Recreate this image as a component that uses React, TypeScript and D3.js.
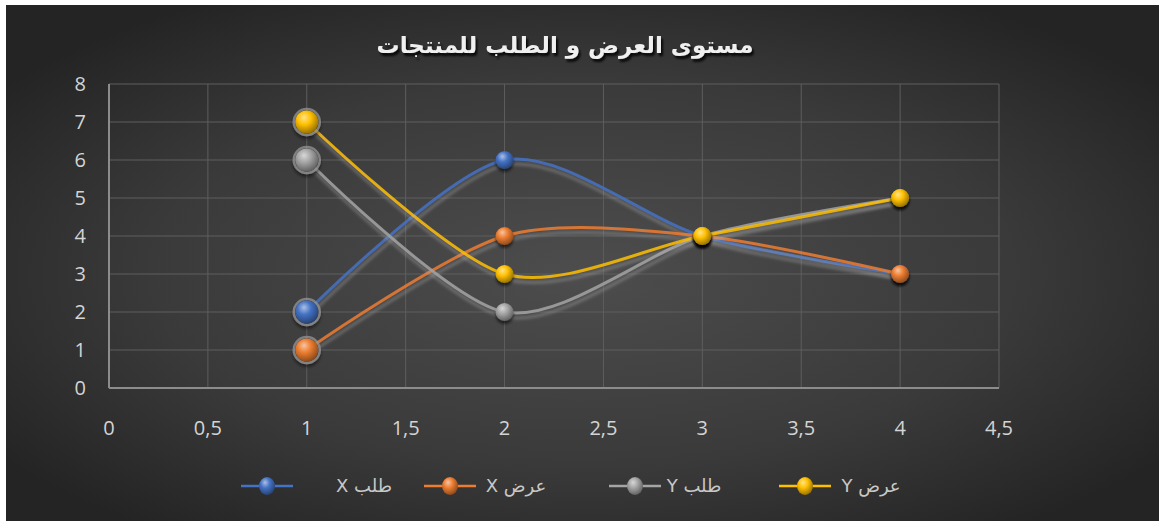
import React from "react";
import * as d3 from "d3";

const W = 1159;
const H = 521;

const xValues = [1, 2, 3, 4];
const demandX = [2, 6, 4, 3];
const supplyX = [1, 4, 4, 3];
const demandY = [6, 2, 4, 5];
const supplyY = [7, 3, 4, 5];

const seriesNames = ["طلب X", "عرض X", "طلب Y", "عرض Y"];
const seriesColors = ["#4472c4", "#ed7d31", "#a5a5a5", "#ffc000"];
const seriesValues = [demandX, supplyX, demandY, supplyY];

const xTicks = [0, 0.5, 1, 1.5, 2, 2.5, 3, 3.5, 4, 4.5];
const yTicks = [0, 1, 2, 3, 4, 5, 6, 7, 8];

const title = "مستوى العرض و الطلب للمنتجات";

const legendLineCenters = [267, 450, 635, 805];
const legendTextCenters = [364, 516, 694, 871];

export default function App() {
  const x = d3.scaleLinear().domain([0, 4.5]).range([109, 999]);
  const y = d3.scaleLinear().domain([0, 8]).range([388, 84]);
  const line = d3
    .line<[number, number]>()
    .x((d) => x(d[0]))
    .y((d) => y(d[1]))
    .curve(d3.curveCardinal.tension(0.15));

  const fmt = (v: number) => String(v).replace(".", ",");
  const tickFont = "'Open Sans', 'Noto Sans', sans-serif";

  return (
    <svg width={W} height={H} style={{ position: "absolute", left: 0, top: 0 }}>
      <defs>
        <radialGradient id="bg" cx="50%" cy="52%" r="62%" fx="50%" fy="52%">
          <stop offset="0%" stopColor="#4d4d4d" />
          <stop offset="60%" stopColor="#3a3a3a" />
          <stop offset="100%" stopColor="#242424" />
        </radialGradient>
        {seriesColors.map((c, i) => (
          <radialGradient key={i} id={`sph${i}`} cx="40%" cy="35%" r="65%" fx="38%" fy="30%">
            <stop offset="0%" stopColor={d3.interpolateRgb(c, "#ffffff")(0.55)} />
            <stop offset="45%" stopColor={c} />
            <stop offset="100%" stopColor={d3.color(c)!.darker(1.4).formatHex()} />
          </radialGradient>
        ))}
        <filter id="lineShadow" x="-10%" y="-20%" width="120%" height="140%">
          <feGaussianBlur in="SourceAlpha" stdDeviation="1.6" result="b" />
          <feOffset in="b" dx="1" dy="5" result="o" />
          <feFlood floodColor="#b0b0b0" floodOpacity="0.45" />
          <feComposite in2="o" operator="in" result="s" />
          <feMerge>
            <feMergeNode in="s" />
            <feMergeNode in="SourceGraphic" />
          </feMerge>
        </filter>
        <filter id="mShadow" x="-50%" y="-50%" width="200%" height="200%">
          <feGaussianBlur in="SourceAlpha" stdDeviation="1.5" result="b" />
          <feOffset in="b" dx="0" dy="3" result="o" />
          <feFlood floodColor="#000000" floodOpacity="0.6" />
          <feComposite in2="o" operator="in" result="s" />
          <feMerge>
            <feMergeNode in="s" />
            <feMergeNode in="SourceGraphic" />
          </feMerge>
        </filter>
        <filter id="titleShadow" x="-10%" y="-50%" width="120%" height="200%">
          <feGaussianBlur in="SourceAlpha" stdDeviation="0.8" result="b" />
          <feOffset in="b" dx="2" dy="3" result="o" />
          <feFlood floodColor="#000000" floodOpacity="0.85" />
          <feComposite in2="o" operator="in" result="s" />
          <feMerge>
            <feMergeNode in="s" />
            <feMergeNode in="SourceGraphic" />
          </feMerge>
        </filter>
      </defs>

      <rect x={0} y={0} width={W} height={H} fill="#ffffff" />
      <rect x={6} y={5} width={W - 6} height={H - 5} fill="url(#bg)" />

      {/* title */}
      <text
        x={565}
        y={53}
        textAnchor="middle"
        fontFamily="'DejaVu Sans', sans-serif"
        fontWeight="bold"
        fontSize={23}
        fill="#f0f0f0"
        filter="url(#titleShadow)"
        style={{ direction: "rtl" }}
      >
        {title}
      </text>

      {/* gridlines */}
      {xTicks.map((t) => (
        <line key={`vx${t}`} x1={x(t)} x2={x(t)} y1={y(8)} y2={y(0)} stroke="#5e5e5e" strokeWidth={1} />
      ))}
      {yTicks.map((t) => (
        <line key={`hy${t}`} x1={x(0)} x2={x(4.5)} y1={y(t)} y2={y(t)} stroke="#5e5e5e" strokeWidth={1} />
      ))}
      {/* axes */}
      <line x1={x(0)} x2={x(0)} y1={y(8)} y2={y(0)} stroke="#8c8c8c" strokeWidth={2} />
      <line x1={x(0)} x2={x(4.5)} y1={y(0)} y2={y(0)} stroke="#8c8c8c" strokeWidth={2} />

      {/* tick labels */}
      {yTicks.map((t) => (
        <text
          key={`ly${t}`}
          x={86}
          y={y(t)}
          dy="0.36em"
          textAnchor="end"
          fontFamily={tickFont}
          fontSize={20}
          fill="#d4d4d4"
        >
          {t}
        </text>
      ))}
      {xTicks.map((t) => (
        <text
          key={`lx${t}`}
          x={x(t)}
          y={428}
          dy="0.36em"
          textAnchor="middle"
          fontFamily={tickFont}
          fontSize={20}
          fill="#d4d4d4"
        >
          {fmt(t)}
        </text>
      ))}

      {/* series */}
      {seriesValues.map((vals, i) => {
        const pts = xValues.map((xv, j) => [xv, vals[j]] as [number, number]);
        return (
          <g key={`s${i}`}>
            <path
              d={line(pts) || ""}
              fill="none"
              stroke={seriesColors[i]}
              strokeWidth={3}
              strokeOpacity={0.85}
              filter="url(#lineShadow)"
            />
          </g>
        );
      })}
      {seriesValues.map((vals, i) => (
        <g key={`m${i}`}>
          {xValues.map((xv, j) => {
            const first = j === 0;
            const r = first ? 11.5 : 9;
            return (
              <g key={j} filter="url(#mShadow)">
                {first && (
                  <circle
                    cx={x(xv)}
                    cy={y(vals[j])}
                    r={r + 1.5}
                    fill="none"
                    stroke="#9a9a9a"
                    strokeOpacity={0.7}
                    strokeWidth={2.5}
                  />
                )}
                <circle cx={x(xv)} cy={y(vals[j])} r={r} fill={`url(#sph${i})`} />
              </g>
            );
          })}
        </g>
      ))}

      {/* legend */}
      {seriesNames.map((name, i) => (
        <g key={`lg${i}`}>
          <line
            x1={legendLineCenters[i] - 26}
            x2={legendLineCenters[i] + 26}
            y1={486}
            y2={486}
            stroke={seriesColors[i]}
            strokeWidth={2.5}
          />
          <ellipse cx={legendLineCenters[i]} cy={486} rx={8} ry={9} fill={`url(#sph${i})`} />
          <text
            x={legendTextCenters[i]}
            y={486}
            dy="0.36em"
            textAnchor="middle"
            fontFamily="'DejaVu Sans', sans-serif"
            fontSize={18}
            fill="#c8c8c8"
            style={{ direction: "rtl" }}
          >
            {name}
          </text>
        </g>
      ))}
    </svg>
  );
}
